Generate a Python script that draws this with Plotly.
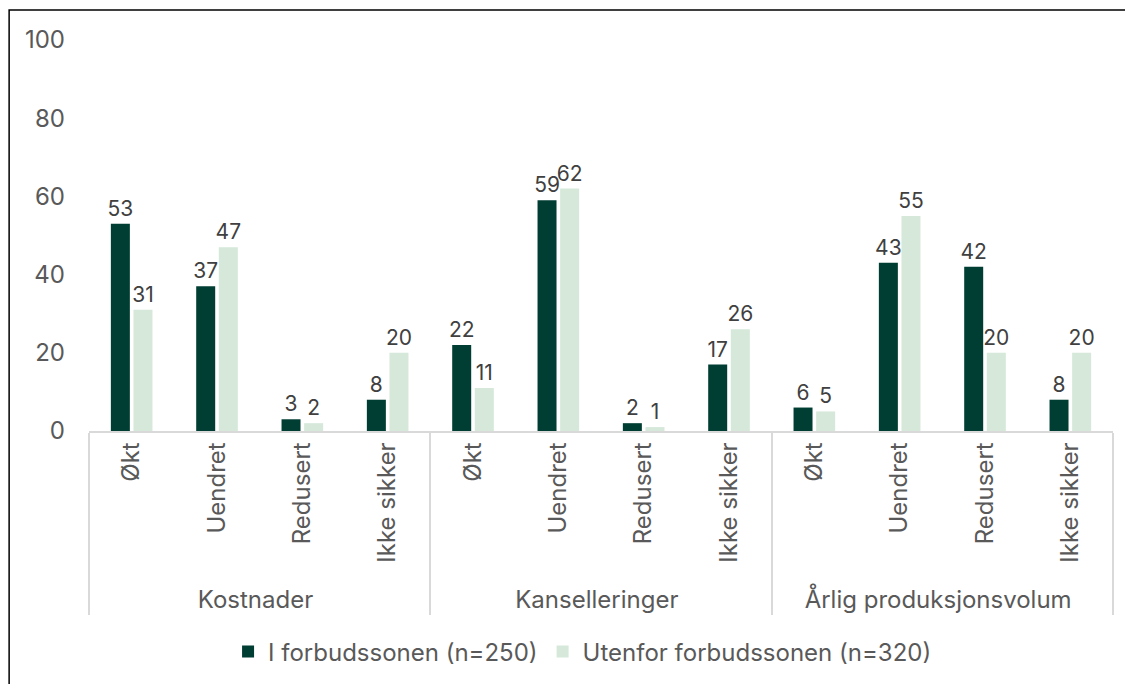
import plotly.graph_objects as go

groups = ["Kostnader", "Kanselleringer", "Årlig produksjonsvolum"]
answers = ["Økt", "Uendret", "Redusert", "Ikke sikker"]
series_names = ["I forbudssonen (n=250)", "Utenfor forbudssonen (n=320)"]
inside = [53, 37, 3, 8, 22, 59, 2, 17, 6, 43, 42, 8]
outside = [31, 47, 2, 20, 11, 62, 1, 26, 5, 55, 20, 20]
colors = ["#003D33", "#D5E8DA"]

outer = [g for g in groups for _ in answers]
inner = [a for _ in groups for a in answers]

FONT = "Inter"
TXT = "#595959"
FS = 24

fig = go.Figure()
for name, vals, col in zip(series_names, [inside, outside], colors):
    fig.add_trace(go.Bar(
        x=[outer, inner], y=vals, name=name,
        marker=dict(color=col, line=dict(width=0)),
        text=[str(v) for v in vals], textposition="outside", constraintext="none",
        textfont=dict(family=FONT, size=21, color="#404040"),
        cliponaxis=False,
    ))

fig.update_layout(
    width=1133, height=684,
    paper_bgcolor="white", plot_bgcolor="white",
    margin=dict(l=81, r=28, t=32, b=261),
    barmode="group", bargap=0.47, bargroupgap=0.16,
    font=dict(family=FONT, size=FS, color=TXT),
    showlegend=True,
    legend=dict(orientation="h", x=0.482, xanchor="center", y=-0.565, yanchor="middle",
                font=dict(family=FONT, size=FS, color=TXT), itemwidth=30,
                traceorder="normal"),
    xaxis=dict(type="multicategory", tickangle=-90, showline=True, linecolor="#D9D9D9",
               linewidth=1.5, ticks="", showdividers=True, dividercolor="#D9D9D9",
               dividerwidth=1.5, tickfont=dict(family=FONT, size=FS, color=TXT)),
    yaxis=dict(range=[0, 100], dtick=20, showgrid=False, zeroline=False, showline=False,
               tickfont=dict(family=FONT, size=FS, color=TXT), ticklabelstandoff=23),
    shapes=[dict(type="rect", xref="paper", yref="paper", x0=-0.078, x1=1.2, y0=-1.0, y1=1.077,
                 line=dict(color="black", width=1.5), fillcolor="rgba(0,0,0,0)", layer="below")],
)

fig.write_html("out.html")
